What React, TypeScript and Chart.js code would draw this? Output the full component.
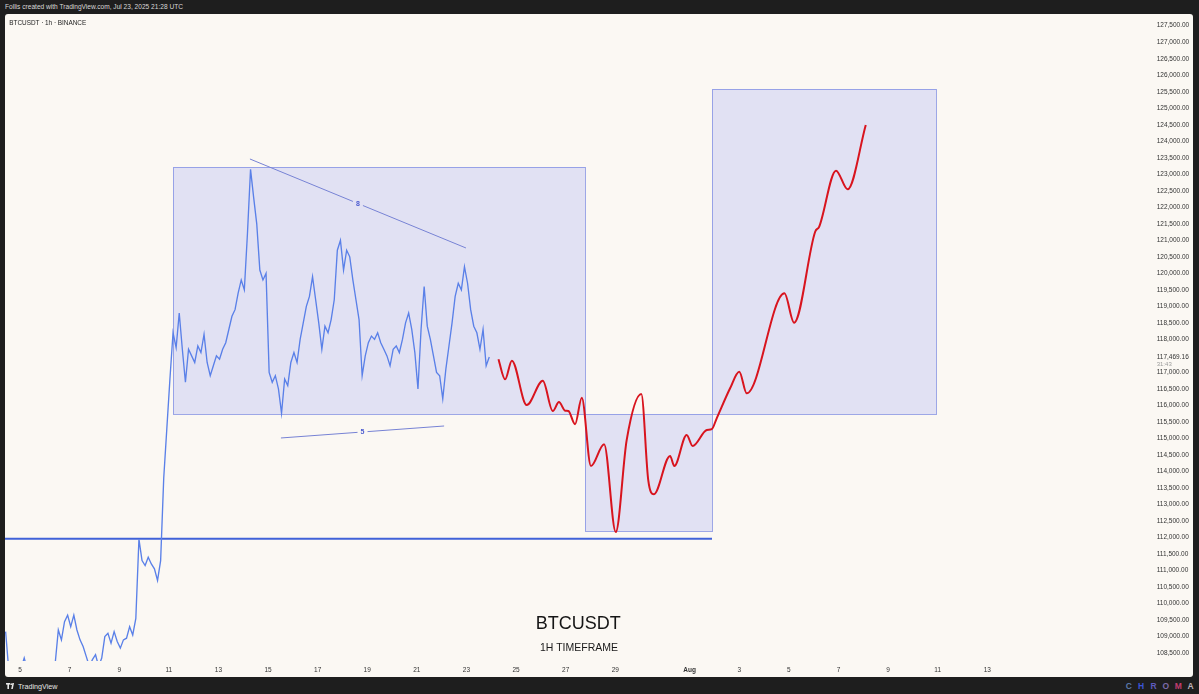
import React, { useEffect, useRef } from "react";
import { Chart, registerables } from "chart.js";

Chart.register(...registerables);

const FONT = "'Liberation Sans', Arial, Helvetica, sans-serif";

// Time axis: days of July 2025 (Aug 1 = day 32)
const xMinDay = 4.395;
const xMaxDay = 49.27;
const xTickDays = [5, 7, 9, 11, 13, 15, 17, 19, 21, 23, 25, 27, 29, 32, 34, 36, 38, 40, 42, 44];
const xTickLabels = ["5", "7", "9", "11", "13", "15", "17", "19", "21", "23", "25", "27", "29", "Aug", "3", "5", "7", "9", "11", "13"];

// Price axis
const yMin = 108260;
const yMax = 127854;
const yTickValues = [
  127500, 127000, 126500, 126000, 125500, 125000, 124500, 124000, 123500, 123000,
  122500, 122000, 121500, 121000, 120500, 120000, 119500, 119000, 118500, 118000,
  117469.16, 117000, 116500, 116000, 115500, 115000, 114500, 114000, 113500, 113000,
  112500, 112000, 111500, 111000, 110500, 110000, 109500, 109000, 108500,
];
const lastPrice = 117469.16;
const countdownLabel = "31:43";

// BTCUSDT closes, one every 3 hours starting Jul 4 ~10:00 UTC
const blueStartDay = 4.42;
const blueStepHours = 3;
const blueCloses = [
  109150, 108000, 107850, 107700, 107900, 108050, 108350, 108000, 107800, 107950,
  108100, 107900, 107750, 107950, 108150, 108000, 108200, 109200, 108900, 109450,
  109650, 109300, 109650, 109200, 108900, 108700, 108400, 108100, 108300, 108450,
  108100, 108350, 109000, 109100, 108800, 109150, 108850, 108650, 108900, 108950,
  109300, 109050, 109550, 111950, 111300, 111150, 111400, 111200, 111050, 110700,
  111300, 113800, 115300, 116800, 118200, 117750, 118800, 117700, 116700, 117700,
  117500, 117300, 117800, 117600, 118150, 117300, 116900, 117200, 117500, 117400,
  117700, 117900, 118300, 118700, 118900, 119400, 119800, 119500, 121200, 123150,
  122300, 121500, 120100, 119800, 120000, 117000, 116700, 116900, 116500, 115760,
  116800, 116600, 117300, 117600, 117300, 118000, 118500, 119000, 119300, 119900,
  119200, 118500, 117700, 118400, 118200, 118600, 119200, 120700, 121000, 120100,
  120700, 120500, 119800, 119200, 118600, 116900, 117500, 117900, 118100, 118000,
  118200, 117900, 117700, 117500, 117200, 117700, 117800, 117600, 118000, 118500,
  118800, 118300, 117600, 116500, 118300, 119600, 118400, 118000, 117500, 117000,
  116900, 116200, 117100, 117800, 118500, 119300, 119700, 119500, 120200, 119700,
  118900, 118400, 118200, 117700, 118300, 117200, 117469.16,
];

// Hand-drawn projection (red)
const projDays = [
  24.29, 24.56, 24.83, 25.43, 26.08, 26.48, 26.73, 26.98, 27.11, 27.38,
  27.65, 28.02, 28.55, 29.02, 29.46, 30.05, 30.33, 30.56, 31.21, 31.38,
  31.88, 32.12, 32.69, 32.89, 33.09, 33.63, 34.0, 34.3, 35.82, 36.21,
  37.06, 37.22, 37.9, 38.37, 39.1,
];
const projValues = [
  117400, 116790, 117355, 116010, 116750, 115830, 116100, 115840, 115830, 115430,
  116235, 114165, 114825, 112165, 114950, 116345, 113740, 113310, 114470, 114165,
  115105, 114770, 115255, 115280, 115610, 116520, 117020, 116365, 119395, 118505,
  121260, 121410, 123110, 122545, 124495,
];

// Horizontal support level
const supportLevel = 111960;
const supportDays = [4.0, 32.9];

// Trend lines
const upperTrendDays = [14.27, 22.98];
const upperTrendValues = [123463, 120768];
const upperTrendLabel = "8";
const lowerTrendDays = [15.52, 22.1];
const lowerTrendValues = [115014, 115377];
const lowerTrendLabel = "5";

// Rectangles (zones)
const zoneStartDays = [11.17, 27.78, 32.9];
const zoneEndDays = [27.78, 32.9, 41.94];
const zoneHighs = [123218, 115736, 125580];
const zoneLows = [115736, 112200, 115736];

const CREAM = "#fbf8f3";
const ZONE_FILL = "rgba(110,120,245,0.18)";
const ZONE_ON_CREAM = "#e2e1f3";

const zonesPlugin = {
  id: "zones",
  beforeDatasetsDraw(chart: any) {
    const { ctx, chartArea, scales } = chart;
    const x = scales.x;
    const y = scales.y;
    ctx.save();
    ctx.beginPath();
    ctx.rect(chartArea.left, chartArea.top, chartArea.right - chartArea.left, chartArea.bottom - chartArea.top);
    ctx.clip();
    for (let i = 0; i < zoneStartDays.length; i++) {
      const x0 = Math.round(x.getPixelForValue(zoneStartDays[i]));
      const x1 = Math.round(x.getPixelForValue(zoneEndDays[i]));
      const y0 = Math.round(y.getPixelForValue(zoneHighs[i]));
      const y1 = Math.round(y.getPixelForValue(zoneLows[i]));
      ctx.fillStyle = ZONE_FILL;
      ctx.fillRect(x0, y0, x1 - x0, y1 - y0);
      ctx.strokeStyle = "rgba(125,140,225,0.75)";
      ctx.lineWidth = 1;
      ctx.strokeRect(x0 + 0.5, y0 + 0.5, x1 - x0, y1 - y0);
    }
    ctx.restore();
  },
};

const labelsPlugin = {
  id: "annotLabels",
  afterDatasetsDraw(chart: any) {
    const { ctx, scales } = chart;
    const x = scales.x;
    const y = scales.y;
    const drawMid = (days: number[], vals: number[], text: string, bg: string) => {
      const mx = (x.getPixelForValue(days[0]) + x.getPixelForValue(days[1])) / 2;
      const my = (y.getPixelForValue(vals[0]) + y.getPixelForValue(vals[1])) / 2;
      ctx.save();
      ctx.fillStyle = bg;
      ctx.fillRect(mx - 5, my - 4, 10, 8);
      ctx.fillStyle = "#4b5bd0";
      ctx.font = `bold 7px ${FONT}`;
      ctx.textAlign = "center";
      ctx.textBaseline = "middle";
      ctx.fillText(text, mx, my + 0.5);
      ctx.restore();
    };
    drawMid(upperTrendDays, upperTrendValues, upperTrendLabel, ZONE_ON_CREAM);
    drawMid(lowerTrendDays, lowerTrendValues, lowerTrendLabel, CREAM);
  },
  afterDraw(chart: any) {
    const { ctx, scales } = chart;
    const y = scales.y;
    ctx.save();
    ctx.fillStyle = "#9a9a9a";
    ctx.font = `6px ${FONT}`;
    ctx.textAlign = "left";
    ctx.textBaseline = "middle";
    ctx.fillText(countdownLabel, y.left + (y.options.ticks.padding || 0), y.getPixelForValue(lastPrice) + 7.5);
    ctx.restore();
  },
};

export default function App() {
  const ref = useRef<HTMLCanvasElement>(null);

  useEffect(() => {
    const canvas = ref.current;
    if (!canvas) return;
    const blueData = blueCloses.map((v, i) => ({ x: blueStartDay + (i * blueStepHours) / 24, y: v }));
    const projData = projDays.map((d, i) => ({ x: d, y: projValues[i] }));
    const supportData = supportDays.map((d) => ({ x: d, y: supportLevel }));
    const upperData = upperTrendDays.map((d, i) => ({ x: d, y: upperTrendValues[i] }));
    const lowerData = lowerTrendDays.map((d, i) => ({ x: d, y: lowerTrendValues[i] }));

    const chart = new Chart(canvas, {
      type: "line",
      data: {
        datasets: [
          {
            label: "Projection",
            data: projData,
            borderColor: "#d8141e",
            borderWidth: 2,
            pointRadius: 0,
            cubicInterpolationMode: "monotone",
            order: 0,
          },
          {
            label: "BTCUSDT 1h",
            data: blueData,
            borderColor: "#5a80e8",
            borderWidth: 1.35,
            pointRadius: 0,
            tension: 0,
            order: 1,
          },
          {
            label: "Upper trend",
            data: upperData,
            borderColor: "#7682d4",
            borderWidth: 1,
            pointRadius: 0,
            order: 2,
          },
          {
            label: "Lower trend",
            data: lowerData,
            borderColor: "#7682d4",
            borderWidth: 1,
            pointRadius: 0,
            order: 2,
          },
          {
            label: "Support",
            data: supportData,
            borderColor: "#4062d8",
            borderWidth: 2,
            pointRadius: 0,
            order: 3,
          },
        ],
      },
      options: {
        responsive: false,
        animation: false,
        events: [],
        layout: { padding: 0 },
        plugins: { legend: { display: false }, tooltip: { enabled: false } },
        scales: {
          x: {
            type: "linear",
            min: xMinDay,
            max: xMaxDay,
            grid: { display: false, drawTicks: false },
            border: { display: false },
            afterFit: (s: any) => {
              s.height = 16;
              s.paddingLeft = 0;
              s.paddingRight = 0;
            },
            afterBuildTicks: (s: any) => {
              s.ticks = xTickDays.map((v) => ({ value: v }));
            },
            ticks: {
              autoSkip: false,
              maxRotation: 0,
              padding: 5,
              color: "#333333",
              font: (ctx: any) => ({
                family: FONT,
                size: 6.5,
                weight: ctx.tick && ctx.tick.value === 32 ? "bold" : "normal",
              }),
              callback: (v: any) => {
                const i = xTickDays.indexOf(Number(v));
                return i >= 0 ? xTickLabels[i] : "";
              },
            },
          },
          y: {
            type: "linear",
            position: "right",
            min: yMin,
            max: yMax,
            grid: { display: false, drawTicks: false },
            border: { display: false },
            afterFit: (s: any) => {
              s.width = 75;
              s.paddingTop = 0;
              s.paddingBottom = 0;
            },
            afterBuildTicks: (s: any) => {
              s.ticks = yTickValues.map((v) => ({ value: v }));
            },
            ticks: {
              autoSkip: false,
              padding: 38.7,
              crossAlign: "near",
              color: "#333333",
              font: { family: FONT, size: 6.5 },
              callback: (v: any) =>
                Number(v).toLocaleString("en-US", { minimumFractionDigits: 2, maximumFractionDigits: 2 }),
            },
          },
        },
      },
      plugins: [zonesPlugin, labelsPlugin],
    } as any);

    return () => chart.destroy();
  }, []);

  const chromaLetters = ["C", "H", "R", "O", "M", "A"];
  const chromaColors = ["#5b78a8", "#3b55d6", "#5d5bbd", "#7c6aa8", "#c23d70", "#bdb2b8"];

  return (
    <div
      style={{
        position: "relative",
        width: 1199,
        height: 694,
        background: "#1e1e1e",
        overflow: "hidden",
        fontFamily: FONT,
      }}
    >
      <style>{`html,body{margin:0;padding:0;background:#1e1e1e;}`}</style>
      <div
        style={{
          position: "absolute",
          left: 5,
          top: 0,
          height: 14,
          lineHeight: "14px",
          fontSize: 6.6,
          color: "#d8d8d8",
          whiteSpace: "nowrap",
        }}
      >
        Follis created with TradingView.com, Jul 23, 2025 21:28 UTC
      </div>
      <div
        style={{
          position: "absolute",
          left: 5,
          top: 14,
          width: 1188,
          height: 663,
          background: CREAM,
          borderRadius: 3,
          overflow: "hidden",
        }}
      >
        <canvas ref={ref} width={1188} height={663} style={{ display: "block" }} />
        <div
          style={{
            position: "absolute",
            left: 4.3,
            top: 4.5,
            lineHeight: "8px",
            fontSize: 6.4,
            color: "#222",
            whiteSpace: "nowrap",
          }}
        >
          BTCUSDT · 1h · BINANCE
        </div>
        <div
          style={{
            position: "absolute",
            left: 573.3,
            top: 608.7,
            transform: "translate(-50%, -50%)",
            fontSize: 18,
            lineHeight: 1,
            color: "#151515",
            whiteSpace: "nowrap",
          }}
        >
          BTCUSDT
        </div>
        <div
          style={{
            position: "absolute",
            left: 574,
            top: 632.7,
            transform: "translate(-50%, -50%)",
            fontSize: 10.5,
            lineHeight: 1,
            color: "#1a1a1a",
            whiteSpace: "nowrap",
          }}
        >
          1H TIMEFRAME
        </div>
      </div>
      <div
        style={{
          position: "absolute",
          left: 6,
          top: 681,
          height: 10,
          display: "flex",
          alignItems: "center",
          color: "#e6e6e6",
          fontSize: 7.2,
          whiteSpace: "nowrap",
        }}
      >
        <svg width="10" height="6" viewBox="0 0 10 6" style={{ marginRight: 2 }}>
          <rect x="0" y="0" width="4" height="1.6" fill="#e6e6e6" />
          <rect x="1.4" y="0" width="1.6" height="6" fill="#e6e6e6" />
          <circle cx="5.2" cy="1.2" r="0.9" fill="#e6e6e6" />
          <polygon points="6.4,0 8,0 6.8,6 5.2,6" fill="#e6e6e6" />
        </svg>
        TradingView
      </div>
      <div
        style={{
          position: "absolute",
          left: 1122.5,
          top: 681,
          height: 10,
          display: "flex",
          alignItems: "center",
          fontSize: 8.5,
          fontWeight: "bold",
        }}
      >
        {chromaLetters.map((ch, i) => (
          <span key={i} style={{ width: 12.4, textAlign: "center", color: chromaColors[i] }}>
            {ch}
          </span>
        ))}
      </div>
    </div>
  );
}
